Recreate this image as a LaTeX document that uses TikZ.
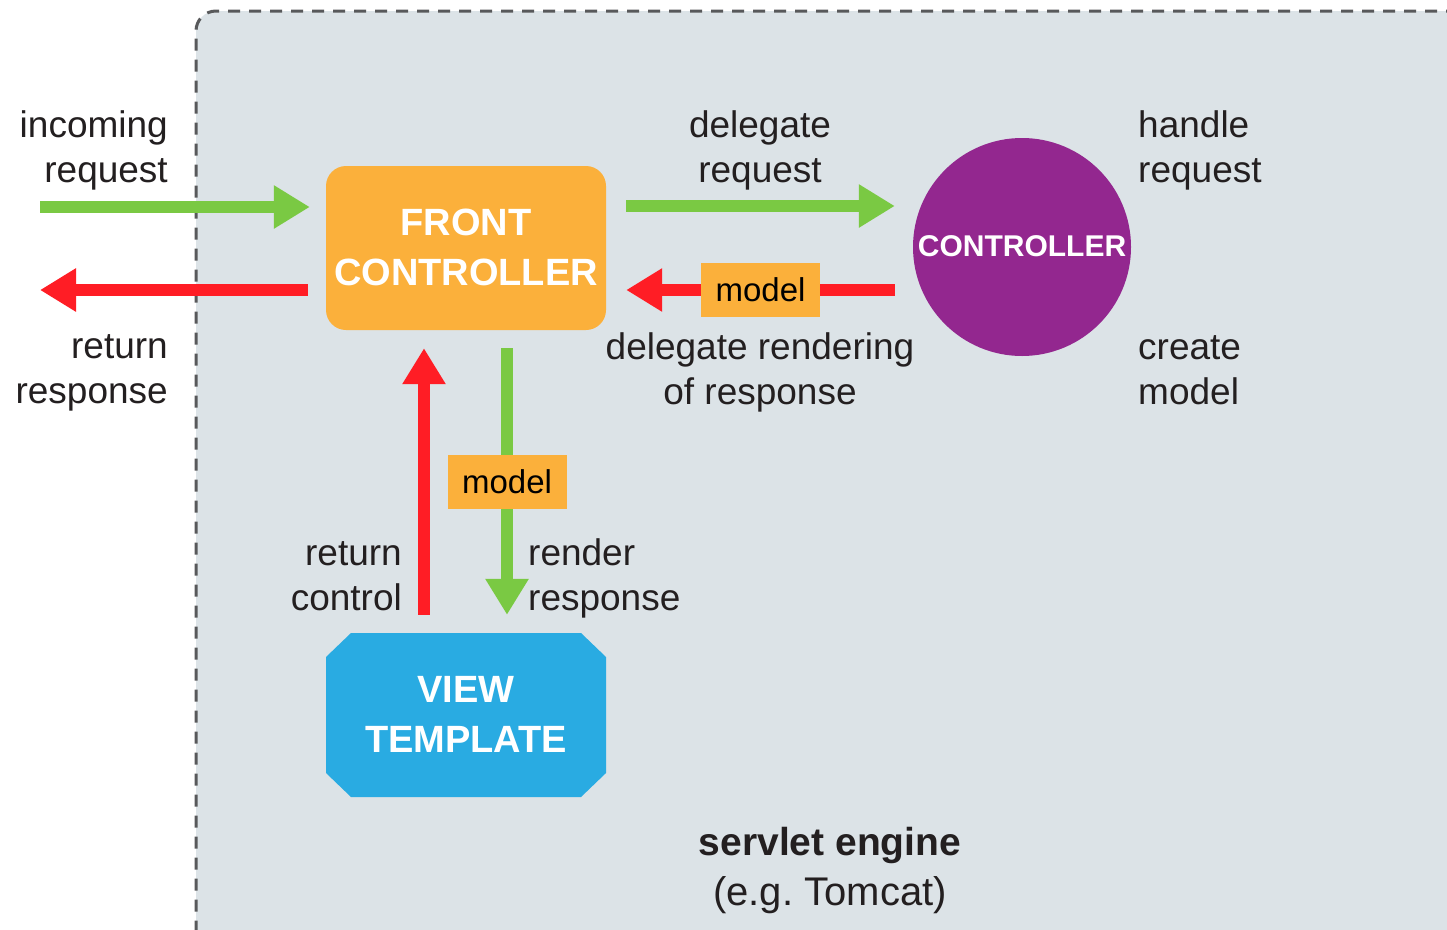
\documentclass[tikz,border=0pt]{standalone}
\usepackage{fontspec}
\setmainfont{Liberation Sans}
\usetikzlibrary{arrows.meta,calc}
\definecolor{bgc}{HTML}{DCE3E7}
\definecolor{bordc}{HTML}{58595B}
\definecolor{orangec}{HTML}{FBB03B}
\definecolor{purplec}{HTML}{93278F}
\definecolor{bluec}{HTML}{29ABE2}
\definecolor{greenc}{HTML}{7AC943}
\definecolor{redc}{HTML}{FF1D25}
\definecolor{textc}{HTML}{231F20}
\tikzset{
  garrow/.style={draw=greenc, line width=12.5pt, -{Triangle[length=36pt,width=41pt]}},
  rarrow/.style={draw=redc, line width=12.5pt, -{Triangle[length=36pt,width=41pt]}},
  lbl/.style={inner sep=0pt, text=textc, font=\fontsize{37}{45}\selectfont},
  boxtext/.style={text=white, align=center, font=\bfseries\fontsize{38}{50}\selectfont},
  modelbox/.style={fill=orangec, minimum width=119pt, minimum height=54pt, inner sep=0pt, text=black, font=\fontsize{33}{40}\selectfont},
}
\begin{document}
\frenchspacing
\begin{tikzpicture}[x=1pt,y=-1pt]
\useasboundingbox (0,0) rectangle (1447,929);
\fill[white] (0,0) rectangle (1447,929);
% servlet engine area
\fill[bgc, rounded corners=20pt] (196,11) rectangle (1500,980);
\draw[bordc, line width=3pt, dash pattern=on 12pt off 9pt, rounded corners=20pt] (1500,11) -- (196,11) -- (196,980);

% nodes
\node[fill=orangec, rounded corners=20pt, minimum width=280pt, minimum height=164pt, inner sep=0pt, boxtext] (fc) at (466,248) {\raisebox{2pt}{FRONT}\\\raisebox{2pt}{CONTROLLER}};
\node[circle, fill=purplec, minimum size=218pt, inner sep=0pt, text=white, font=\bfseries\fontsize{30}{36}\selectfont] (ctrl) at (1022,247) {\raisebox{1.5pt}{CONTROLLER}};
% view template (chamfered)
\fill[bluec] (351,633) -- (581,633) -- (606,657) -- (606,773) -- (581,797) -- (351,797) -- (326,773) -- (326,657) -- cycle;
\node[minimum width=280pt, minimum height=164pt, inner sep=0pt, boxtext] (vt) at (466,715) {\raisebox{2pt}{VIEW}\\\raisebox{2pt}{TEMPLATE}};

% free ends
\coordinate (inS) at (40,207);
\coordinate (outE) at (40,290);

% connectors
\draw[garrow] (inS) -- ($(fc.west)+(-16,-41)$);
\draw[rarrow] ($(fc.west)+(-18,42)$) -- (outE);
\draw[garrow] ($(fc.east)+(20,-42)$) -- ($(ctrl.west)+(-18,-41)$);
\draw[rarrow] ($(ctrl.west)+(-18,43)$) -- node[modelbox] (m1) {model} ($(fc.east)+(20,42)$);
\draw[garrow] ($(fc.south)+(41,18)$) -- node[modelbox] (m2) {model} ($(vt.north)+(41,-18)$);
\draw[rarrow] ($(vt.north)+(-42,-18)$) -- ($(fc.south)+(-42,18)$);

% labels
\node[lbl, anchor=base east] (l1a) at (168,137) {incoming};
\node[lbl, anchor=base east] (l1b) at (168,182) {request};
\node[lbl, anchor=base east] (l2a) at (168,358) {return};
\node[lbl, anchor=base east] (l2b) at (168,403) {response};
\node[lbl, anchor=base] (l3a) at (760,137) {delegate};
\node[lbl, anchor=base] (l3b) at (760,182) {request};
\node[lbl, anchor=base west] (l4a) at (1138,137) {handle};
\node[lbl, anchor=base west] (l4b) at (1138,182) {request};
\node[lbl, anchor=base] (l5a) at (760,359) {delegate rendering};
\node[lbl, anchor=base] (l5b) at (760,404) {of response};
\node[lbl, anchor=base west] (l6a) at (1138,359) {create};
\node[lbl, anchor=base west] (l6b) at (1138,404) {model};
\node[lbl, anchor=base east] (l7a) at (402,565) {return};
\node[lbl, anchor=base east] (l7b) at (402,610) {control};
\node[lbl, anchor=base west] (l8a) at (528,565) {render};
\node[lbl, anchor=base west] (l8b) at (528,610) {response};
\node[lbl, anchor=base, font=\bfseries\fontsize{39}{45}\selectfont] (s1) at (830,855) {servlet engine};
\node[lbl, anchor=base, font=\fontsize{40}{45}\selectfont] (s2) at (830,905) {(e.g. Tomcat)};
\end{tikzpicture}
\end{document}
